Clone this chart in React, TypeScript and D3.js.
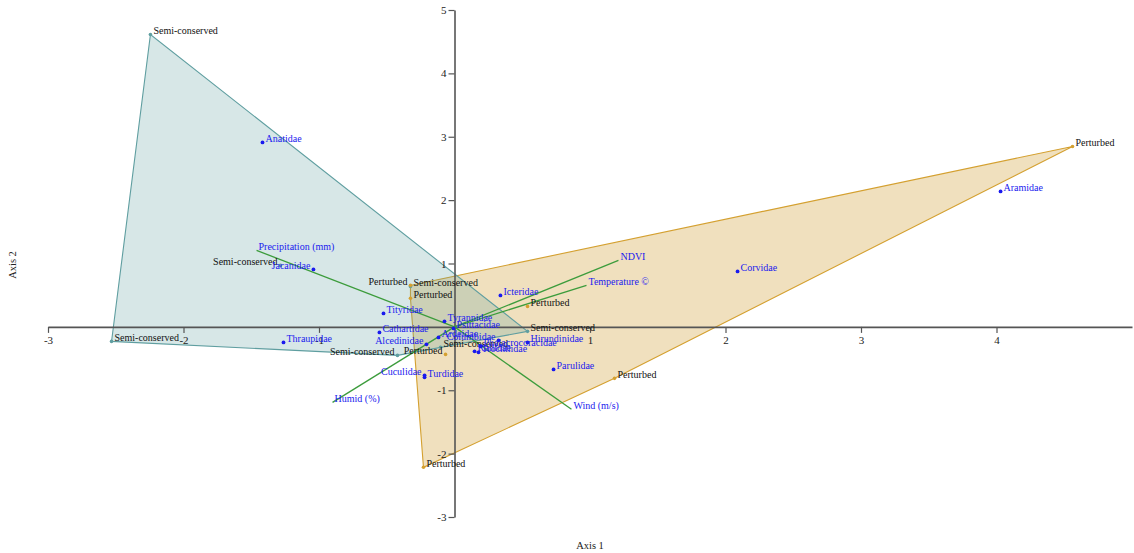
import React, { useEffect, useRef } from "react";
import * as d3 from "d3";

// Site scores (Axis 1, Axis 2)
const semiConservedSites: [number, number, string][] = [
  [-2.244, 4.614, "start"],
  [-2.531, -0.229, "start"],
  [-1.284, 0.97, "end"],
  [-0.325, 0.639, "start"],
  [0.539, -0.071, "start"],
  [-0.421, -0.45, "end"],
  [-0.103, -0.323, "start"],
];
const perturbedSites: [number, number, string][] = [
  [4.561, 2.847, "start"],
  [1.181, -0.812, "start"],
  [-0.229, -2.216, "start"],
  [0.539, 0.323, "start"],
  [-0.325, 0.45, "start"],
  [-0.325, 0.655, "end"],
  [-0.066, -0.434, "end"],
];

// Species scores
const speciesNames = [
  "Anatidae", "Aramidae", "Corvidae", "Jacanidae", "Thraupidae", "Tityridae",
  "Cathartidae", "Alcedinidae", "Ardeidae", "Tyrannidae", "Psittacidae",
  "Columbidae", "Hirundinidae", "Phalacrocoracidae", "Trochilidae", "Rallidae",
  "Icteridae", "Turdidae", "Cuculidae", "Parulidae",
];
const speciesX = [
  -1.417, 4.03, 2.089, -1.041, -1.262, -0.524, -0.554, -0.207, -0.118, -0.074,
  -0.007, 0.325, 0.539, 0.192, 0.177, 0.148, 0.339, -0.221, -0.221, 0.731,
];
const speciesY = [
  2.91, 2.137, 0.875, 0.907, -0.245, 0.213, -0.087, -0.276, -0.166, 0.087,
  -0.024, -0.213, -0.245, -0.308, -0.402, -0.386, 0.497, -0.796, -0.765, -0.671,
];
const speciesAnchor = [
  "start", "start", "start", "end", "start", "start", "start", "end", "start", "start",
  "start", "end", "start", "start", "start", "start", "start", "start", "end", "start",
];

// Environmental vectors
const envNames = ["Precipitation (mm)", "Humid (%)", "Wind (m/s)", "NDVI", "Temperature ©"];
const envX = [-1.461, -0.9, 0.863, 1.21, 0.974];
const envY = [1.207, -1.191, -1.301, 1.049, 0.655];

const xTicks = [-3, -2, -1, 1, 2, 3, 4];
const yTicks = [5, 4, 3, 2, 1, -1, -2, -3];

const W = 1134;
const H = 553;
const FONT = "'Liberation Serif', 'Times New Roman', serif";

export default function App() {
  const xAxisRef = useRef<SVGGElement>(null);
  const yAxisRef = useRef<SVGGElement>(null);

  const x = d3.scaleLinear().domain([-3, 5]).range([48, 1132]);
  const y = d3.scaleLinear().domain([-3, 5]).range([517, 10]);

  useEffect(() => {
    const fmt = (d: any) => String(d);
    const xa = d3.axisBottom(x).tickValues(xTicks).tickSize(6).tickSizeOuter(0).tickPadding(3).tickFormat(fmt);
    const ya = d3.axisLeft(y).tickValues(yTicks).tickSize(6).tickSizeOuter(0).tickPadding(2).tickFormat(fmt);
    const gx = d3.select(xAxisRef.current!);
    gx.call(xa as any);
    const gy = d3.select(yAxisRef.current!);
    gy.call(ya as any);
    [gx, gy].forEach((g) => {
      g.attr("font-family", FONT).attr("font-size", 11);
      g.selectAll("path.domain").attr("stroke", "#555").attr("stroke-width", 1.6);
      g.selectAll(".tick line").attr("stroke", "#555").attr("stroke-width", 1.2);
      g.selectAll(".tick text").attr("fill", "#222");
    });
  }, []);

  const semiPts = semiConservedSites.map((d) => [x(d[0]), y(d[1])] as [number, number]);
  const pertPts = perturbedSites.map((d) => [x(d[0]), y(d[1])] as [number, number]);
  const semiHull = d3.polygonHull(semiPts) || [];
  const pertHull = d3.polygonHull(pertPts) || [];
  const line = (pts: [number, number][]) => "M" + pts.map((p) => p.join(",")).join("L") + "Z";

  const blue = "#1a1aee";
  const fs = 10;

  return (
    <svg
      width={W}
      height={H}
      style={{ position: "absolute", left: 0, top: 0, background: "#fff" }}
      fontFamily={FONT}
    >
      <path d={line(pertHull)} fill="#dab25d" fillOpacity={0.4} stroke="#d4a030" strokeWidth={1.1} />
      <path d={line(semiHull)} fill="cadetblue" fillOpacity={0.25} stroke="cadetblue" strokeWidth={1.1} />

      <g ref={xAxisRef} transform={`translate(0,${y(0)})`} />
      <g ref={yAxisRef} transform={`translate(${x(0)},0)`} />

      {envNames.map((n, i) => (
        <g key={n}>
          <line x1={x(0)} y1={y(0)} x2={x(envX[i])} y2={y(envY[i])} stroke="#3c9c3c" strokeWidth={1.3} />
          <text x={x(envX[i]) + 2} y={y(envY[i])} fontSize={fs} fill={blue}>{n}</text>
        </g>
      ))}

      {semiConservedSites.map((d, i) => (
        <g key={"s" + i}>
          <circle cx={x(d[0])} cy={y(d[1])} r={1.8} fill="cadetblue" />
          <text x={x(d[0]) + (d[2] === "end" ? -3 : 3)} y={y(d[1])} textAnchor={d[2]} fontSize={fs} fill="#111">Semi-conserved</text>
        </g>
      ))}
      {perturbedSites.map((d, i) => (
        <g key={"p" + i}>
          <circle cx={x(d[0])} cy={y(d[1])} r={1.8} fill="#d4a030" />
          <text x={x(d[0]) + (d[2] === "end" ? -3 : 3)} y={y(d[1])} textAnchor={d[2]} fontSize={fs} fill="#111">Perturbed</text>
        </g>
      ))}

      {speciesNames.map((n, i) => (
        <g key={n}>
          <circle cx={x(speciesX[i])} cy={y(speciesY[i])} r={1.9} fill={blue} />
          <text
            x={x(speciesX[i]) + (speciesAnchor[i] === "end" ? -3 : 3)}
            y={y(speciesY[i])}
            textAnchor={speciesAnchor[i]}
            fontSize={fs}
            fill={blue}
          >
            {n}
          </text>
        </g>
      ))}

      <text x={590} y={549} textAnchor="middle" fontSize={10.5} fill="#222">Axis 1</text>
      <text transform={`translate(16,265) rotate(-90)`} textAnchor="middle" fontSize={10.5} fill="#222">Axis 2</text>
    </svg>
  );
}
